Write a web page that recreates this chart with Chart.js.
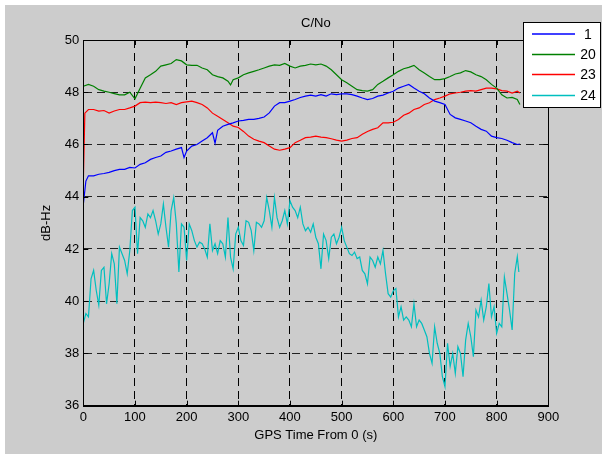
<!DOCTYPE html>
<html>
<head>
<meta charset="utf-8">
<script src="https://cdn.jsdelivr.net/npm/chart.js@4.4.1/dist/chart.umd.min.js"></script>
<style>
  html, body { margin: 0; padding: 0; background: #ffffff; }
  #wrap { position: absolute; left: 5px; top: 5px; width: 597px; height: 449px; background: #cccccc; }
  #cno { display: block; }
</style>
</head>
<body>
<div id="wrap"><canvas id="cno" width="597" height="449" style="width:597px;height:449px"></canvas></div>
<script>
// (seconds, dB-Hz)
const prnLabels = ['1', '20', '23', '24']
const lineColors = ['#0000ff', '#008000', '#ff0000', '#00bfbf']

const timeSat1 = [0, 5, 10, 20, 30, 40, 50, 60, 70, 80, 90, 100, 110, 120, 130, 140, 150, 160, 170, 180, 190, 195, 200,
    210, 220, 230, 240, 250, 255, 260, 270, 280, 290, 300, 310, 320, 330, 340, 350, 360, 370, 380, 390, 400,
    410, 420, 430, 440, 450, 460, 470, 480, 490, 500, 510, 520, 530, 540, 550, 560, 570, 580, 590, 600,
    610, 620, 630, 640, 650, 660, 670, 680, 690, 700, 710, 720, 730, 740, 750, 760, 770, 780, 790, 800,
    810, 820, 830, 840, 845]
const cnoSat1 = [43.7, 44.6, 44.8, 44.8, 44.86, 44.89, 44.93, 45.0, 45.05, 45.05, 45.12, 45.1, 45.24, 45.3, 45.43, 45.5, 45.56, 45.7, 45.75, 45.82, 45.88, 45.5, 45.75,
    45.94, 46.0, 46.13, 46.26, 46.45, 46.05, 46.54, 46.7, 46.77, 46.83, 46.9, 46.92, 46.96, 46.96, 47.0, 47.05, 47.21, 47.47, 47.6, 47.6, 47.66,
    47.72, 47.8, 47.85, 47.89, 47.85, 47.91, 47.85, 47.94, 47.91, 47.94, 47.94, 47.91, 47.85, 47.78, 47.72, 47.76, 47.85, 47.89, 47.97, 48.04,
    48.16, 48.23, 48.3, 48.16, 48.04, 47.94, 47.78, 47.66, 47.6, 47.53, 47.15, 47.02, 46.96, 46.9, 46.83, 46.7, 46.58, 46.51, 46.32, 46.26,
    46.23, 46.16, 46.07, 46.0, 46.02]

const timeSat20 = [0, 10, 20, 30, 40, 50, 60, 70, 80, 90, 100, 110, 120, 130, 140, 150, 160, 170, 180, 190, 200,
    210, 220, 230, 240, 250, 260, 270, 280, 285, 290, 300, 310, 320, 330, 340, 350, 360, 370, 380, 390, 400,
    410, 420, 430, 440, 450, 460, 470, 480, 490, 500, 510, 520, 530, 540, 550, 560, 570, 580, 590, 600,
    610, 620, 630, 640, 650, 660, 670, 680, 690, 700, 710, 720, 730, 740, 750, 760, 770, 780, 790, 800,
    810, 820, 830, 840, 845]
const cnoSat20 = [48.23, 48.3, 48.23, 48.1, 48.04, 48.0, 47.95, 47.9, 47.9, 48.0, 47.75, 48.15, 48.55, 48.67, 48.8, 49.0, 49.05, 49.1, 49.25, 49.2, 49.05,
    49.03, 49.03, 48.93, 48.86, 48.67, 48.6, 48.55, 48.42, 48.28, 48.48, 48.55, 48.67, 48.74, 48.8, 48.86, 48.93, 49.0, 49.05, 49.03, 49.1, 49.0,
    48.93, 49.0, 49.03, 49.08, 49.05, 49.08, 49.0, 48.86, 48.67, 48.48, 48.36, 48.23, 48.1, 48.06, 48.04, 48.1, 48.3, 48.42, 48.55, 48.67,
    48.8, 48.9, 48.95, 49.03, 48.86, 48.74, 48.6, 48.48, 48.48, 48.52, 48.6, 48.7, 48.74, 48.83, 48.78, 48.67, 48.6, 48.48, 48.3, 48.16,
    47.9, 47.78, 47.8, 47.72, 47.53]

const timeSat23 = [0, 3, 10, 20, 30, 40, 50, 60, 70, 80, 90, 100, 110, 120, 130, 140, 150, 160, 170, 180, 190, 200,
    210, 220, 230, 240, 250, 260, 270, 280, 290, 300, 310, 320, 330, 340, 350, 360, 370, 380, 390, 400,
    410, 420, 430, 440, 450, 460, 470, 480, 490, 500, 510, 520, 530, 540, 550, 560, 570, 580, 590, 600,
    610, 620, 630, 640, 650, 660, 670, 680, 690, 700, 710, 720, 730, 740, 750, 760, 770, 780, 790, 800,
    810, 820, 830, 840, 845]
const cnoSat23 = [44.5, 47.2, 47.34, 47.34, 47.28, 47.3, 47.2, 47.28, 47.34, 47.34, 47.4, 47.47, 47.6, 47.62, 47.6, 47.62, 47.6, 47.57, 47.6, 47.53, 47.6, 47.63,
    47.66, 47.6, 47.53, 47.4, 47.2, 47.08, 46.96, 46.83, 46.7, 46.65, 46.5, 46.32, 46.2, 46.13, 46.07, 45.94, 45.82, 45.78, 45.82, 45.88,
    46.07, 46.16, 46.26, 46.28, 46.32, 46.28, 46.26, 46.22, 46.17, 46.13, 46.17, 46.23, 46.26, 46.39, 46.5, 46.58, 46.64, 46.83, 46.83, 46.85,
    46.96, 47.12, 47.2, 47.34, 47.4, 47.53, 47.6, 47.72, 47.78, 47.85, 47.94, 47.97, 48.0, 48.04, 48.06, 48.04, 48.1, 48.16, 48.16, 48.13,
    48.06, 48.04, 47.97, 48.04, 47.97]

const timeSat24 = [0, 5, 10, 15, 20, 25, 30, 35, 40, 45, 50, 55, 60, 65, 70, 75, 80, 85, 90, 95,
    100, 105, 110, 115, 120, 125, 130, 135, 140, 145, 150, 155, 160, 165, 170, 175, 180, 185, 190, 195,
    200, 205, 210, 215, 220, 225, 230, 235, 240, 245, 250, 255, 260, 265, 270, 275, 280, 285, 290, 295,
    300, 305, 310, 315, 320, 325, 330, 335, 340, 345, 350, 355, 360, 365, 370, 375, 380, 385, 390, 395,
    400, 405, 410, 415, 420, 425, 430, 435, 440, 445, 450, 455, 460, 465, 470, 475, 480, 485, 490, 495,
    500, 505, 510, 515, 520, 525, 530, 535, 540, 545, 550, 555, 560, 565, 570, 575, 580, 585, 590, 595,
    600, 605, 610, 615, 620, 625, 630, 635, 640, 645, 650, 655, 660, 665, 670, 675, 680, 685, 690, 695,
    700, 705, 710, 715, 720, 725, 730, 735, 740, 745, 750, 755, 760, 765, 770, 775, 780, 785, 790, 795,
    800, 805, 810, 815, 820, 825, 830, 835, 840, 843]
const cnoSat24 = [39.15, 39.53, 39.4, 40.86, 41.18, 40.42, 39.85, 41.18, 41.3, 39.9, 40.67, 41.82, 41.43, 39.9, 42.07, 41.82, 41.56, 41.05, 41.94, 43.47,
    43.6, 41.82, 43.2, 43.08, 42.83, 43.34, 43.2, 43.47, 43.08, 42.57, 42.96, 43.72, 42.83, 42.07, 43.47, 43.97, 42.96, 41.12, 42.96, 42.83,
    41.56, 42.96, 42.7, 42.32, 42.07, 42.26, 42.2, 42.0, 41.69, 42.96, 41.94, 42.2, 41.82, 42.32, 42.2, 41.69, 43.2, 41.69, 41.24, 42.57,
    42.83, 42.32, 42.13, 43.08, 43.02, 42.7, 41.94, 43.02, 42.96, 42.83, 43.08, 43.97, 43.47, 42.83, 43.97, 43.2, 42.83, 43.08, 43.47, 42.96,
    43.85, 43.6, 43.47, 43.2, 43.6, 42.96, 42.7, 42.83, 42.64, 42.96, 42.45, 42.2, 41.24, 42.57, 42.32, 41.63, 42.45, 42.57, 42.2, 42.45,
    42.83, 42.32, 42.07, 41.82, 41.75, 41.88, 41.63, 41.69, 41.18, 41.05, 40.67, 41.69, 41.56, 41.3, 41.69, 41.43, 41.94, 41.05, 40.29, 40.16,
    40.4, 40.49, 39.4, 39.79, 39.28, 39.4, 39.28, 39.02, 39.91, 39.02, 39.28, 39.15, 38.9, 38.64, 38.0, 37.62, 39.02, 38.39, 38.0, 37.11,
    36.73, 38.39, 37.5, 38.0, 37.24, 38.26, 38.0, 37.11, 38.51, 39.15, 38.64, 37.88, 39.66, 39.4, 40.04, 39.28, 39.79, 40.68, 39.4, 39.79,
    38.77, 39.15, 39.02, 40.93, 40.3, 39.66, 38.9, 41.06, 41.7, 41.12]

const xTicks = [0, 100, 200, 300, 400, 500, 600, 700, 800, 900]
const yTicks = [36, 38, 40, 42, 44, 46, 48, 50]

function toPoints(times, values) {
    return times.map((t, i) => ({ x: t, y: values[i] }))
}

const allTimes = [timeSat1, timeSat20, timeSat23, timeSat24]
const allCno = [cnoSat1, cnoSat20, cnoSat23, cnoSat24]

const FONT = "'Liberation Sans', Arial, Helvetica, sans-serif"

// box round the axes + inward ticks, matlab style
const axesBox = {
    id: 'axesBox',
    afterDatasetsDraw(chart) {
        const { ctx, chartArea: a, scales } = chart
        ctx.save()
        ctx.strokeStyle = '#000'
        ctx.lineWidth = 1
        ctx.strokeRect(Math.round(a.left) + 0.5, Math.round(a.top) + 0.5,
            Math.round(a.right) - Math.round(a.left), Math.round(a.bottom) - Math.round(a.top))
        ctx.beginPath()
        xTicks.forEach(v => {
            const px = Math.round(scales.x.getPixelForValue(v)) + 0.5
            ctx.moveTo(px, a.bottom); ctx.lineTo(px, a.bottom - 5)
            ctx.moveTo(px, a.top); ctx.lineTo(px, a.top + 5)
        })
        yTicks.forEach(v => {
            const py = Math.round(scales.y.getPixelForValue(v)) + 0.5
            ctx.moveTo(a.left, py); ctx.lineTo(a.left + 5, py)
            ctx.moveTo(a.right, py); ctx.lineTo(a.right - 5, py)
        })
        ctx.stroke()
        ctx.restore()
    }
}

// legend box sticking out top right like the original
const boxLegend = {
    id: 'boxLegend',
    afterDraw(chart) {
        const ctx = chart.ctx
        const bx = 518.5, by = 17.5, bw = 77, bh = 85
        ctx.save()
        ctx.fillStyle = '#fff'
        ctx.fillRect(bx, by, bw, bh)
        ctx.strokeStyle = '#000'
        ctx.lineWidth = 1
        ctx.strokeRect(bx, by, bw, bh)
        ctx.font = '14px ' + FONT
        ctx.textAlign = 'center'
        ctx.textBaseline = 'middle'
        const rows = [29, 49.5, 69.5, 90.5]
        chart.data.datasets.forEach((ds, i) => {
            ctx.strokeStyle = ds.borderColor
            ctx.lineWidth = 1.3
            ctx.beginPath()
            ctx.moveTo(527, rows[i]); ctx.lineTo(570, rows[i])
            ctx.stroke()
            ctx.fillStyle = '#000'
            ctx.fillText(ds.label, 583, rows[i] + 1)
        })
        ctx.restore()
    }
}

const ctx = document.getElementById('cno')

new Chart(ctx, {
    type: 'line',
    data: {
        datasets: prnLabels.map((lab, i) => ({
            label: lab,
            data: toPoints(allTimes[i], allCno[i]),
            borderColor: lineColors[i],
            borderWidth: 1.2,
            pointRadius: 0,
            tension: 0,
            fill: false
        }))
    },
    options: {
        responsive: false,
        animation: false,
        events: [],
        layout: { padding: { left: 0, right: 53.7, top: 0, bottom: 0 } },
        plugins: {
            legend: { display: false },
            tooltip: { enabled: false },
            title: {
                display: true,
                text: 'C/No',
                fullSize: false,
                color: '#000',
                font: { family: FONT, size: 13, weight: 'normal' },
                padding: { top: 10.2, bottom: 9.2 }
            }
        },
        scales: {
            x: {
                type: 'linear',
                min: 0,
                max: 900,
                afterBuildTicks: (s) => { s.ticks = xTicks.map(v => ({ value: v })) },
                afterFit: (s) => { s.height = 48.3 },
                ticks: { color: '#000', padding: 3.5, font: { family: FONT, size: 13 } },
                grid: { color: '#000', lineWidth: 1, drawTicks: false },
                border: { display: true, color: '#000', dash: [8, 5] },
                title: {
                    display: true,
                    text: 'GPS Time From 0 (s)',
                    color: '#000',
                    font: { family: FONT, size: 13 },
                    padding: { top: 0, bottom: 11.2 }
                }
            },
            y: {
                min: 36,
                max: 50,
                afterBuildTicks: (s) => { s.ticks = yTicks.map(v => ({ value: v })) },
                afterFit: (s) => { s.width = 78.3 },
                ticks: { color: '#000', padding: 4, font: { family: FONT, size: 13 } },
                grid: { color: '#222', lineWidth: 1, drawTicks: false },
                border: { display: true, color: '#000', dash: [8, 5] },
                title: {
                    display: true,
                    text: 'dB-Hz',
                    color: '#000',
                    font: { family: FONT, size: 13 },
                    padding: { top: 33.2, bottom: 0 }
                }
            }
        }
    },
    plugins: [axesBox, boxLegend]
})
</script>
</body>
</html>
